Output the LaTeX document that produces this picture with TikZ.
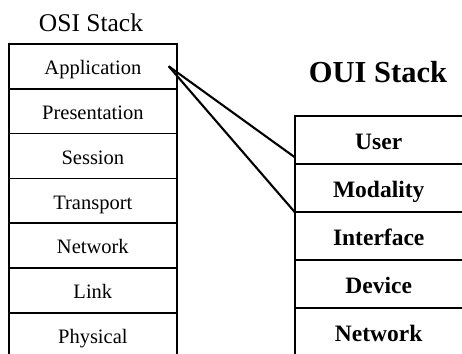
\documentclass[tikz,border=0pt]{standalone}
\usepackage{fontspec}
\setmainfont{Liberation Serif}
\begin{document}
\begin{tikzpicture}[x=1pt,y=-1pt,
  osirow/.style={draw, line width=1.7pt, minimum width=168pt, minimum height=44.85pt,
    inner sep=0pt, font=\fontsize{20.5}{24}\selectfont, text height=16.5pt, text depth=0pt,
    anchor=north west},
  ouirow/.style={minimum width=167pt, minimum height=48pt, inner sep=0pt,
    font=\fontsize{23.5}{28}\selectfont\bfseries, text height=18pt, text depth=0pt,
    anchor=north west},
  frame/.style={line width=1.7pt},
  link/.style={line width=2.1pt}]
\useasboundingbox (0,0) rectangle (462,353);

% titles
\node[font=\fontsize{25.5}{30}\selectfont, anchor=base] (osititle) at (91,31) {OSI Stack};
\node[font=\fontsize{30.5}{36}\selectfont\bfseries, anchor=base] (ouititle) at (378,82) {OUI Stack};

% OSI layers
\node[osirow] (app)   at (8,43)     {Application};
\node[osirow] (pres)  at (8,87.85)  {Presentation};
\node[osirow] (sess)  at (8,132.7)  {Session};
\node[osirow] (trans) at (8,177.55) {Transport};
\node[osirow] (net)   at (8,222.4)  {Network};
\node[osirow] (lnk)   at (8,267.25) {Link};
\node[osirow] (phys)  at (8,312.1)  {Physical};

% OUI layers
\node[ouirow] (user)  at (295,116) {User};
\node[ouirow] (modal) at (295,164) {Modality};
\node[ouirow] (iface) at (295,212) {Interface};
\node[ouirow] (dev)   at (295,260) {Device};
\node[ouirow] (onet)  at (295,308) {Network};

% OUI frame: open on the right
\foreach \r in {user,modal,iface,dev,onet}
  \draw[frame] ([xshift=12pt]\r.north east) -- (\r.north west) -- ([yshift=-1pt]\r.south west);

% mapping from Application onto the OUI layers
\coordinate (hub) at ([xshift=-9pt]app.east);
\draw[link] (hub) -- ([yshift=7pt]user.south west);
\draw[link] (hub) -- (modal.south west);
\end{tikzpicture}
\end{document}
